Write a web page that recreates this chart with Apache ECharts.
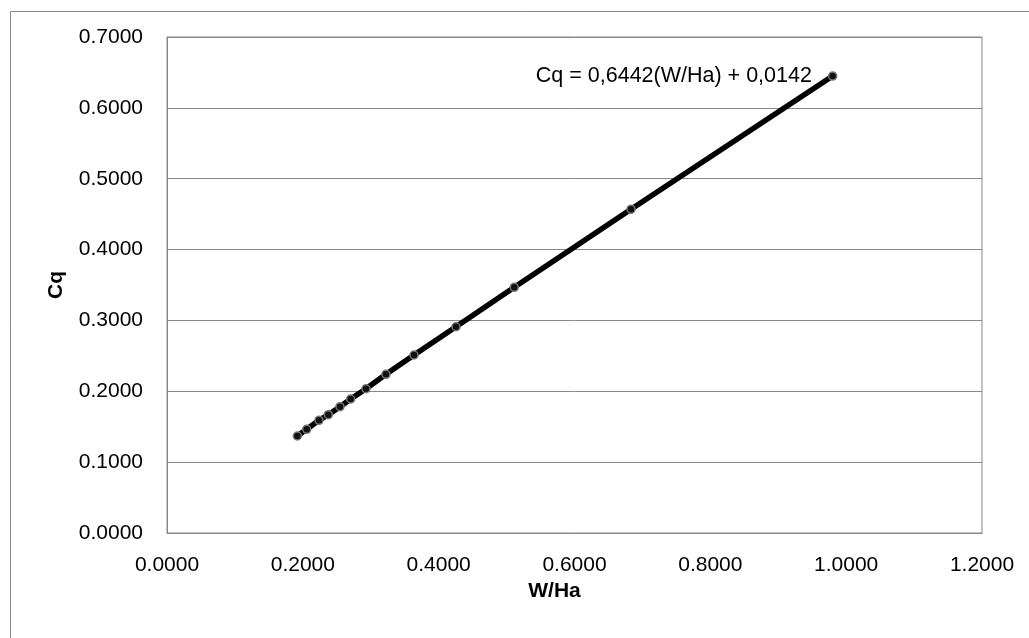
<!DOCTYPE html>
<html>
<head>
<meta charset="utf-8">
<script src="https://cdn.jsdelivr.net/npm/echarts@6/dist/echarts.min.js"></script>
<style>
    html, body {margin: 0; padding: 0; background: #fff;}
    #chart {width: 1029px; height: 638px;}
</style>
</head>
<body>
<div id="chart"></div>
<script>
    // W/Ha values
    var ratioWH = [0.1919, 0.2057, 0.2238, 0.2375, 0.2547, 0.2704, 0.2930, 0.3224, 0.3637,
        0.4255, 0.5113, 0.6832, 0.9801];
    // Cq values
    var cqValues = [0.1369, 0.1463, 0.1590, 0.1670, 0.1782, 0.1891, 0.2036, 0.2240, 0.2512,
        0.2911, 0.3467, 0.4568, 0.6449];
    var equationText = 'Cq = 0,6442(W/Ha) + 0,0142';

    var fontFamily = '"Liberation Sans", Arial, sans-serif';
    var gridColor = '#888888';

    var points = ratioWH.map(function (x, i) {
        return [x, cqValues[i]];
    });
    // equation label hangs off the last point
    var lastIdx = points.length - 1;
    points[lastIdx] = {
        value: points[lastIdx],
        label: {
            show: true,
            position: 'left',
            distance: 16,
            formatter: equationText,
            color: '#000',
            fontSize: 21.5,
            fontFamily: fontFamily
        }
    };

    var fmt = function (v) {
        return v.toFixed(4);
    };

    var option = {
        backgroundColor: '#fff',
        animation: false,
        textStyle: {fontFamily: fontFamily},
        graphic: [{
            type: 'rect',
            left: 8,
            top: 9,
            shape: {width: 1100, height: 700},
            style: {fill: 'none', stroke: '#8a8a8a', lineWidth: 1}
        }],
        grid: {
            left: 167,
            right: 47,
            top: 37,
            bottom: 105,
            show: true,
            borderColor: gridColor,
            borderWidth: 1,
            backgroundColor: 'transparent'
        },
        xAxis: {
            type: 'value',
            min: 0,
            max: 1.2,
            interval: 0.2,
            name: 'W/Ha',
            nameLocation: 'middle',
            nameGap: 46,
            nameTextStyle: {fontSize: 21, fontWeight: 'bold', color: '#000', padding: [0, 40, 0, 0]},
            axisLine: {show: true, lineStyle: {color: gridColor, width: 1}},
            axisTick: {show: false},
            splitLine: {show: false},
            axisLabel: {fontSize: 21, color: '#000', margin: 22, formatter: fmt}
        },
        yAxis: {
            type: 'value',
            min: 0,
            max: 0.7,
            interval: 0.1,
            name: 'Cq',
            nameLocation: 'middle',
            nameGap: 100,
            nameTextStyle: {fontSize: 21, fontWeight: 'bold', color: '#000'},
            axisLine: {show: true, lineStyle: {color: gridColor, width: 1}},
            axisTick: {show: false},
            splitLine: {show: true, lineStyle: {color: gridColor, width: 1}},
            axisLabel: {fontSize: 21, color: '#000', margin: 24, formatter: fmt}
        },
        series: [{
            type: 'line',
            data: points,
            symbol: 'circle',
            symbolSize: 8,
            showAllSymbol: true,
            lineStyle: {color: '#000', width: 5.5},
            itemStyle: {color: '#111', borderColor: '#777', borderWidth: 1.5},
            z: 3
        }]
    };

    var chart = echarts.init(document.getElementById('chart'));
    chart.setOption(option);
</script>
</body>
</html>
